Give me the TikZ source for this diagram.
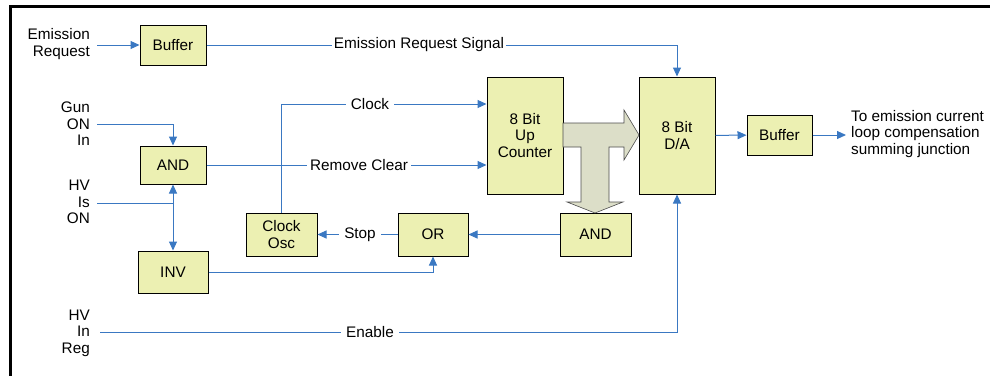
\documentclass[tikz,border=0pt]{standalone}
\usepackage{fontspec}
\setmainfont{Liberation Sans}
\usetikzlibrary{arrows.meta}
\definecolor{boxfill}{RGB}{236,240,178}
\definecolor{wire}{RGB}{58,120,194}
\definecolor{busfill}{RGB}{220,222,200}
\begin{document}
\begin{tikzpicture}[x=1pt,y=-1pt,
  font=\fontsize{15.3}{16.5}\selectfont,
  blk/.style={draw=black,line width=1pt,fill=boxfill,align=center,inner sep=0pt},
  sig/.style={draw=wire,line width=1pt},
  arr/.style={sig,-{Triangle[length=9pt,width=8pt]}},
  darr/.style={sig,{Triangle[length=9pt,width=8pt]}-{Triangle[length=9pt,width=8pt]}},
  lbl/.style={fill=white,inner xsep=5pt,inner ysep=1pt},
  inp/.style={align=right,anchor=east,inner sep=0pt}]
\useasboundingbox (0,0) rectangle (990,375);
\draw[line width=3pt] (10,380) -- (10,6) -- (995,6);
\path node[blk,minimum width=66pt,minimum height=40pt] (buf1) at (173,45) {Buffer}
node[blk,minimum width=66pt,minimum height=38pt] (and1) at (173,165) {AND}
node[blk,minimum width=70pt,minimum height=42pt] (inv) at (173,272) {INV}
node[blk,minimum width=71pt,minimum height=43pt] (osc) at (281.5,234.5) {Clock\\Osc}
node[blk,minimum width=70pt,minimum height=43pt] (or) at (433,234.5) {OR}
node[blk,minimum width=71pt,minimum height=43pt] (and2) at (595.5,234.5) {AND}
node[blk,minimum width=76pt,minimum height=117pt] (cnt) at (525,135.5) {8 Bit\\Up\\Counter}
node[blk,minimum width=76pt,minimum height=117pt] (da) at (677,135.5) {8 Bit\\D/A}
node[blk,minimum width=65pt,minimum height=40pt] (buf2) at (779.5,135) {Buffer}
node[inp] (emreq) at (90,44) {Emission\\Request}
node[inp] (gun) at (90,124) {Gun\\ON\\In}
node[inp] (hvon) at (90,202) {HV\\Is\\ON}
node[inp] (hvreg) at (90,333) {HV\\In\\Reg}
node[align=left,anchor=west,inner sep=0pt] (out) at (851,134) {To emission current\\loop compensation\\summing junction}
;
\coordinate (emreqend) at (97,45);
\coordinate (gunend) at (97,124);
\coordinate (hvonend) at (97,203);
\coordinate (hvregend) at (100,332);
\coordinate (outend) at (846,135);
\draw[arr] (emreqend) -- (buf1);
\draw[arr] (buf1) -| (da);
\draw[arr] (gunend) -| (and1);
\draw[sig] (hvonend) -- (173,203);
\draw[darr] (and1) -- (inv);
\draw[arr] (and1) -- (cnt.west |- and1);
\draw[arr] (osc) |- (cnt.west |- 0,104);
\draw[arr] (and2) -- (or);
\draw[arr] (or) -- (osc);
\draw[arr] (inv) -| (or);
\draw[arr] (hvregend) -| (da);
\draw[arr] (da) -- (buf2);
\draw[arr] (buf2) -- (outend);
\draw[fill=busfill,draw=black!70,line width=0.6pt] (563,123) -- (624,123) -- (624,110) -- (639,135) -- (624,160) -- (624,147) -- (609,147) -- (609,202) -- (623,202) -- (595,213) -- (567,202) -- (581,202) -- (581,147) -- (563,147) -- cycle;
\path node[lbl,inner xsep=2pt] (ersig) at (419,45) {Emission Request Signal}
node[lbl,inner xsep=3pt] (rmclr) at (359,165) {Remove Clear}
node[lbl] (clk) at (370,104) {Clock}
node[lbl] (stop) at (360,235) {Stop}
node[lbl] (enable) at (370,332) {Enable}
;
\end{tikzpicture}
\end{document}
